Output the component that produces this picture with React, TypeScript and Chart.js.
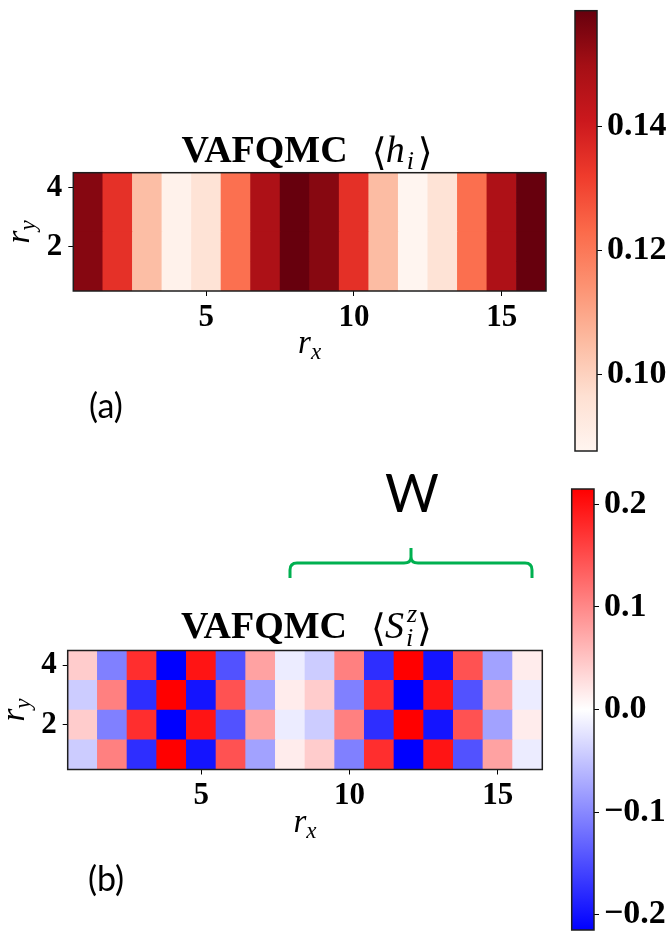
import React, { useEffect, useRef } from 'react';
import { Chart, registerables } from 'chart.js';

Chart.register(...registerables);

// ---------- data ----------
const rxValues = [1, 2, 3, 4, 5, 6, 7, 8, 9, 10, 11, 12, 13, 14, 15, 16];
const ryValues = [1, 2, 3, 4];

// panel (a): <h_i>, identical for every r_y
const hValues = [0.1542, 0.1345, 0.1047, 0.089, 0.0954, 0.1218, 0.1479, 0.1586, 0.154, 0.1348, 0.105, 0.0876, 0.0952, 0.122, 0.1476, 0.1586];

// panel (b): <S_i^z>, one array per r_y (1 = bottom row)
const szRow1 = [-0.043, 0.107, -0.176, 0.215, -0.198, 0.146, -0.078, 0.016, 0.043, -0.107, 0.176, -0.215, 0.198, -0.146, 0.078, -0.016];
const szRow2 = [0.043, -0.107, 0.176, -0.215, 0.198, -0.146, 0.078, -0.016, -0.043, 0.107, -0.176, 0.215, -0.198, 0.146, -0.078, 0.016];
const szRow3 = [-0.043, 0.107, -0.176, 0.215, -0.198, 0.146, -0.078, 0.016, 0.043, -0.107, 0.176, -0.215, 0.198, -0.146, 0.078, -0.016];
const szRow4 = [0.043, -0.107, 0.176, -0.215, 0.198, -0.146, 0.078, -0.016, -0.043, 0.107, -0.176, 0.215, -0.198, 0.146, -0.078, 0.016];

const xTickValues = [5, 10, 15];
const yTickValues = [2, 4];
const hTickValues = [0.1, 0.12, 0.14];
const szTickValues = [-0.2, -0.1, 0.0, 0.1, 0.2];
const hRange = [0.0876, 0.1586];
const szRange = [-0.215, 0.215];

// ---------- colormaps ----------
const REDS = ['#fff5f0', '#fee0d2', '#fcbba1', '#fc9272', '#fb6a4a', '#ef3b2c', '#cb181d', '#a50f15', '#67000d'];
const BWR = ['#0000ff', '#ffffff', '#ff0000'];

function hexToRgb(h: string) {
  const n = parseInt(h.slice(1), 16);
  return [(n >> 16) & 255, (n >> 8) & 255, n & 255];
}
function cmap(stops: string[], t: number) {
  const tt = Math.max(0, Math.min(1, t));
  const n = stops.length - 1;
  const p = tt * n;
  const i = Math.min(Math.floor(p), n - 1);
  const f = p - i;
  const a = hexToRgb(stops[i]);
  const b = hexToRgb(stops[i + 1]);
  const c = a.map((v, k) => Math.round(v + (b[k] - v) * f));
  return `rgb(${c[0]},${c[1]},${c[2]})`;
}
const redsOf = (v: number) => cmap(REDS, (v - hRange[0]) / (hRange[1] - hRange[0]));
const bwrOf = (v: number) => cmap(BWR, (v - szRange[0]) / (szRange[1] - szRange[0]));

// ---------- fonts ----------
const SERIF = '"Liberation Serif", "Times New Roman", serif';
const SANS = 'Lato, "Open Sans", sans-serif';

// ---------- text helpers ----------
function drawTitle(c: CanvasRenderingContext2D, cx: number, base: number, kind: 'h' | 'S') {
  c.save();
  c.fillStyle = '#000';
  c.textAlign = 'left';
  c.textBaseline = 'alphabetic';
  c.font = `bold 38px ${SERIF}`;
  const word = 'VAFQMC';
  const w1 = c.measureText(word).width;
  const total = w1 + 28 + 56;
  const x0 = cx - total / 2;
  c.fillText(word, x0, base);
  const xb = x0 + w1 + 28;
  c.font = `38px "DejaVu Serif", ${SERIF}`;
  c.fillText('\u27E8', xb - 4, base + 3);
  c.font = `italic 38px ${SERIF}`;
  if (kind === 'h') {
    c.fillText('h', xb + 10, base);
    c.font = `italic 26px ${SERIF}`;
    c.fillText('i', xb + 31, base + 7);
  } else {
    c.fillText('S', xb + 10, base);
    c.font = `italic 26px ${SERIF}`;
    c.fillText('z', xb + 32, base - 16);
    c.fillText('i', xb + 31, base + 8);
  }
  c.font = `38px "DejaVu Serif", ${SERIF}`;
  c.fillText('\u27E9', xb + 42, base + 3);
  c.restore();
}

function drawAxisLabels(c: CanvasRenderingContext2D, a: any) {
  c.save();
  c.fillStyle = '#000';
  c.textBaseline = 'alphabetic';
  // r_x
  const cx = (a.left + a.right) / 2;
  const by = a.bottom + 62;
  c.font = `italic 33px ${SERIF}`;
  const wr = c.measureText('r').width;
  c.font = `italic 23px ${SERIF}`;
  const wx = c.measureText('x').width;
  let x = cx - (wr + wx) / 2;
  c.textAlign = 'left';
  c.font = `italic 33px ${SERIF}`;
  c.fillText('r', x, by);
  c.font = `italic 23px ${SERIF}`;
  c.fillText('x', x + wr, by + 6);
  // r_y (rotated)
  const cy = (a.top + a.bottom) / 2;
  c.translate(a.left - 44, cy);
  c.rotate(-Math.PI / 2);
  c.font = `italic 33px ${SERIF}`;
  const wr2 = c.measureText('r').width;
  c.font = `italic 23px ${SERIF}`;
  const wy = c.measureText('y').width;
  x = -(wr2 + wy) / 2;
  c.font = `italic 33px ${SERIF}`;
  c.fillText('r', x, 0);
  c.font = `italic 23px ${SERIF}`;
  c.fillText('y', x + wr2, 6);
  c.restore();
}

function drawFrame(c: CanvasRenderingContext2D, a: any) {
  c.save();
  c.strokeStyle = '#1e1e1e';
  c.lineWidth = 1.5;
  c.strokeRect(a.left, a.top, a.right - a.left, a.bottom - a.top);
  c.restore();
}

const noPadV = (s: any) => { s.paddingTop = 0; s.paddingBottom = 0; };
const noPadH = (s: any) => { s.paddingLeft = 0; s.paddingRight = 0; };

// ---------- chart configs ----------
function heatmapConfig(rows: number[][], colorOf: (v: number) => string, geom: any, decor: (chart: any) => void) {
  const tickFont = { family: SERIF, size: 31, weight: 'bold' as const };
  return {
    type: 'bar' as const,
    data: {
      datasets: ryValues.map((y, r) => ({
        data: rxValues.map((x) => ({ x, y: [y - 0.5, y + 0.5] })),
        backgroundColor: rows[r].map(colorOf),
        borderWidth: 0,
        grouped: false,
        barPercentage: 1,
        categoryPercentage: 1,
      })),
    },
    options: {
      responsive: false,
      animation: false,
      layout: { padding: geom.padding },
      plugins: { legend: { display: false }, tooltip: { enabled: false }, title: { display: false } },
      scales: {
        x: {
          type: 'linear',
          min: 0.5,
          max: 16.5,
          offset: false,
          afterBuildTicks: (s: any) => { s.ticks = xTickValues.map((v) => ({ value: v })); },
          afterFit: (s: any) => { s.height = geom.xh; noPadH(s); },
          ticks: { font: tickFont, color: '#000', padding: 3, maxRotation: 0, autoSkip: false, callback: (v: any) => String(v) },
          grid: { display: true, drawOnChartArea: false, drawTicks: true, tickLength: 5, color: '#000', offset: false },
          border: { display: false },
        },
        y: {
          type: 'linear',
          min: 0.5,
          max: 4.5,
          beginAtZero: false,
          stacked: false,
          afterBuildTicks: (s: any) => { s.ticks = yTickValues.map((v) => ({ value: v })); },
          afterFit: (s: any) => { s.width = geom.yw; noPadV(s); },
          ticks: { font: tickFont, color: '#000', padding: 6, callback: (v: any) => String(v) },
          grid: { display: true, drawOnChartArea: false, drawTicks: true, tickLength: 5, color: '#000' },
          border: { display: false },
        },
      },
    },
    plugins: [{ id: 'decor', afterDraw: decor }],
  };
}

function colorbarConfig(range: number[], stops: string[], tickValues: number[], fmt: (v: number) => string, geom: any) {
  return {
    type: 'bar' as const,
    data: {
      labels: [''],
      datasets: [
        {
          data: [[range[0], range[1]]],
          backgroundColor: (ctx: any) => {
            const chart = ctx.chart;
            const a = chart.chartArea;
            if (!a) return 'rgba(0,0,0,0)';
            const g = chart.ctx.createLinearGradient(0, a.bottom, 0, a.top);
            stops.forEach((s, i) => g.addColorStop(i / (stops.length - 1), s));
            return g;
          },
          borderWidth: 0,
          barPercentage: 1,
          categoryPercentage: 1,
        },
      ],
    },
    options: {
      responsive: false,
      animation: false,
      layout: { padding: geom.padding },
      plugins: { legend: { display: false }, tooltip: { enabled: false } },
      scales: {
        x: { display: false },
        y: {
          position: 'right',
          min: range[0],
          max: range[1],
          beginAtZero: false,
          afterBuildTicks: (s: any) => { s.ticks = tickValues.map((v) => ({ value: v })); },
          afterFit: (s: any) => { s.width = geom.yw; noPadV(s); },
          ticks: { font: { family: SERIF, size: 34, weight: 'bold' }, color: '#000', padding: 5, callback: (v: any) => fmt(Number(v)) },
          grid: { display: true, drawOnChartArea: false, drawTicks: true, tickLength: 5, color: '#000' },
          border: { display: false },
        },
      },
    },
    plugins: [{ id: 'cbframe', afterDraw: (chart: any) => drawFrame(chart.ctx, chart.chartArea) }],
  };
}

function drawBrace(c: CanvasRenderingContext2D) {
  c.save();
  c.strokeStyle = '#00b050';
  c.lineWidth = 3;
  c.lineJoin = 'round';
  c.beginPath();
  c.moveTo(290, 118);
  c.lineTo(290, 110);
  c.quadraticCurveTo(290, 103, 297, 103);
  c.lineTo(404, 103);
  c.quadraticCurveTo(411, 103, 411, 97);
  c.lineTo(411, 88);
  c.moveTo(411, 97);
  c.quadraticCurveTo(411, 103, 418, 103);
  c.lineTo(525, 103);
  c.quadraticCurveTo(532, 103, 532, 110);
  c.lineTo(532, 118);
  c.stroke();
  c.restore();
}

export default function App() {
  const aRef = useRef<HTMLCanvasElement>(null);
  const aCbRef = useRef<HTMLCanvasElement>(null);
  const bRef = useRef<HTMLCanvasElement>(null);
  const bCbRef = useRef<HTMLCanvasElement>(null);

  useEffect(() => {
    const charts: Chart[] = [];

    const decorA = (chart: any) => {
      const c = chart.ctx;
      const a = chart.chartArea;
      drawFrame(c, a);
      drawTitle(c, (a.left + a.right) / 2 - 3, 161.5, 'h');
      drawAxisLabels(c, a);
      c.save();
      c.fillStyle = '#000';
      c.font = `34px ${SANS}`;
      c.textAlign = 'center';
      c.textBaseline = 'alphabetic';
      c.fillText('(a)', 106, 418);
      c.restore();
    };
    const decorB = (chart: any) => {
      const c = chart.ctx;
      const a = chart.chartArea;
      drawFrame(c, a);
      drawTitle(c, (a.left + a.right) / 2 + 1, 178, 'S');
      drawAxisLabels(c, a);
      c.save();
      c.fillStyle = '#000';
      c.textAlign = 'center';
      c.textBaseline = 'alphabetic';
      c.font = `34px ${SANS}`;
      c.fillText('(b)', 106, 431);
      c.font = `52px ${SANS}`;
      c.fillText('W', 412, 52);
      c.restore();
      drawBrace(c);
    };

    charts.push(
      new Chart(
        aRef.current!,
        heatmapConfig(ryValues.map(() => hValues), redsOf, { padding: { left: 0, right: 14, top: 172.7, bottom: 109 }, xh: 60, yw: 73.3 }, decorA) as any
      )
    );
    charts.push(
      new Chart(
        bRef.current!,
        heatmapConfig([szRow1, szRow2, szRow3, szRow4], bwrOf, { padding: { left: 0, right: 17.7, top: 190.5, bottom: 101.5 }, xh: 60, yw: 67.7 }, decorB) as any
      )
    );
    charts.push(
      new Chart(
        aCbRef.current!,
        colorbarConfig(hRange, REDS, hTickValues, (v) => v.toFixed(2), { padding: { left: 15, right: 0, top: 10.7, bottom: 9 }, yw: 71 }) as any
      )
    );
    charts.push(
      new Chart(
        bCbRef.current!,
        colorbarConfig(szRange, BWR, szTickValues, (v) => (Math.abs(v) < 1e-9 ? '0.0' : v.toFixed(1).replace('-', '\u2212')), {
          padding: { left: 11.7, right: 0, top: 29, bottom: 1 },
          yw: 74,
        }) as any
      )
    );

    return () => charts.forEach((ch) => ch.destroy());
  }, []);

  return (
    <div style={{ position: 'absolute', left: 0, top: 0, width: 668, height: 931, background: '#fff', overflow: 'hidden' }}>
      <canvas ref={aRef} width={560} height={460} style={{ position: 'absolute', left: 0, top: 0 }} />
      <canvas ref={aCbRef} width={108} height={460} style={{ position: 'absolute', left: 560, top: 0 }} />
      <canvas ref={bRef} width={560} height={471} style={{ position: 'absolute', left: 0, top: 460 }} />
      <canvas ref={bCbRef} width={108} height={471} style={{ position: 'absolute', left: 560, top: 460 }} />
    </div>
  );
}
